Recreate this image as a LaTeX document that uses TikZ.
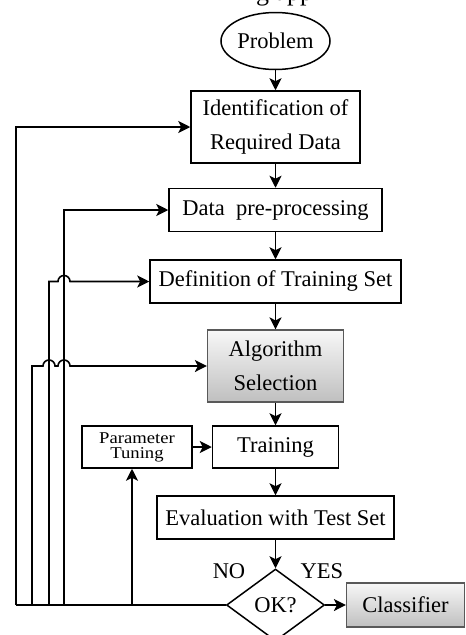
\documentclass[tikz,border=0pt]{standalone}
\usepackage{fontspec}
\usepackage{graphicx}
\setmainfont{Liberation Serif}
\usetikzlibrary{shapes.geometric,arrows.meta}

\begin{document}
\begin{tikzpicture}[x=1pt,y=-1pt,
  every node/.style={font=\fontsize{22.5}{34}\selectfont, align=center},
  box/.style={draw, line width=1.5pt, inner sep=0pt},
  shadedbox/.style={draw=gray!70!black, line width=1.2pt, inner sep=0pt,
    top color=gray!6, bottom color=gray!50},
  link/.style={line width=1.6pt, -{Stealth[length=12pt,width=12pt,inset=3pt]}},
  wire/.style={line width=1.6pt},
  lbl/.style={inner sep=0pt},
]
\useasboundingbox (0,0) rectangle (466,635);

% caption above the chart (cut by the frame)
\node[anchor=base west, font=\fontsize{26}{30}\selectfont, inner sep=0pt] (caption) at (256,0.5) {g app};

% main column
\node[box, ellipse, minimum width=109pt, minimum height=57pt] (prob) at (275.5,41) {Problem};
\node[box, minimum width=169pt, minimum height=72pt] (ident) at (275.5,127) {Identification of\\Required Data};
\node[box, minimum width=213pt, minimum height=43pt] (pre) at (275.5,210) {Data\ \ pre-processing};
\node[box, minimum width=251pt, minimum height=43pt] (def) at (275.5,281.5) {Definition of Training Set};
\node[shadedbox, minimum width=136pt, minimum height=72pt] (alg) at (275.5,366) {Algorithm\\Selection};
\node[box, minimum width=126pt, minimum height=42pt] (train) at (275.5,447) {Training};
\node[box, minimum width=110pt, minimum height=42pt,
      font=\fontsize{16.5}{15}\selectfont] (param) at (137,447)
      {\scalebox{1.13}[1]{Parameter}\\\scalebox{1.13}[1]{Tuning}};
\node[box, minimum width=237pt, minimum height=43pt] (eval) at (275.5,517.5) {Evaluation with Test Set};
\node[box, diamond, aspect=1.36, minimum width=98pt, minimum height=72pt] (ok) at (275.5,605) {OK?};
\node[shadedbox, minimum width=118pt, minimum height=44pt] (cls) at (405.5,605) {Classifier};

\node[lbl] (no) at (229,571) {NO};
\node[lbl] (yes) at (322,571) {YES};

% forward flow
\draw[link] (prob) -- (ident);
\draw[link] (ident) -- (pre);
\draw[link] (pre) -- (def);
\draw[link] (def) -- (alg);
\draw[link] (alg) -- (train);
\draw[link] (train) -- (eval);
\draw[link] (eval) -- (ok);
\draw[link] (ok) -- (cls);
\draw[link] (param) -- (train);

% feedback lines from the NO branch
\coordinate (f1) at (16,605);
\coordinate (f2) at (32,605);
\coordinate (f3) at (49,605);
\coordinate (f4) at (64,605);
\coordinate (f5) at (132,605);

\draw[wire] (ok.west) -- (f1);
\draw[link] (f1) |- (ident.west);
\draw[link] (f4) |- (pre.west);
\draw[link] (f3) |- ([xshift=-6pt]f4 |- def.west) arc[start angle=180, end angle=360, radius=6] -- (def.west);
\draw[link] (f2) |- ([xshift=-6pt]f3 |- alg.west) arc[start angle=180, end angle=360, radius=6]
  -- ([xshift=-6pt]f4 |- alg.west) arc[start angle=180, end angle=360, radius=6] -- (alg.west);
\draw[link] (f5) -- (f5 |- param.south);
\end{tikzpicture}
\end{document}
